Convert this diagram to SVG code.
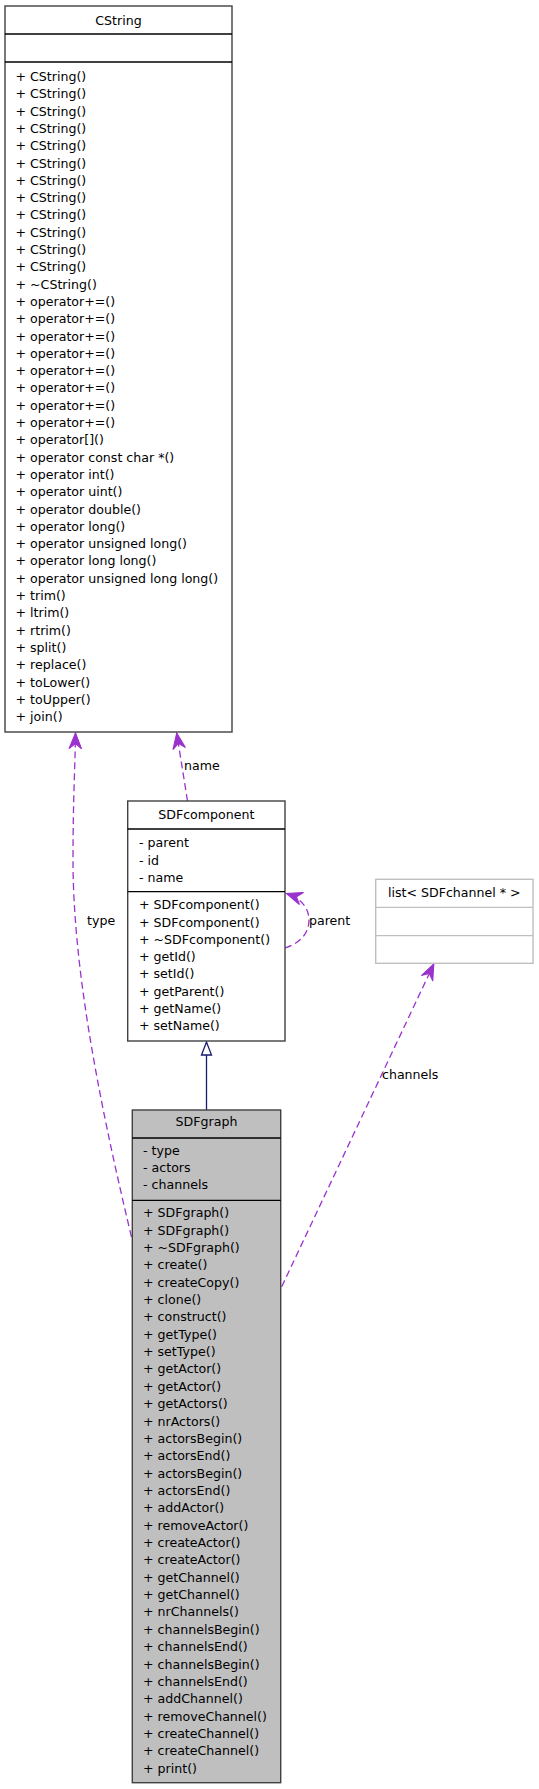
<svg xmlns="http://www.w3.org/2000/svg" width="539" height="1789" viewBox="0 0 539 1789">
<style>
text { font-family: "DejaVu Sans", "Liberation Sans", sans-serif; font-size: 12.6px; fill: #000; }
.t { text-anchor: middle; }
.box { fill: #fff; stroke: #404040; stroke-width: 1.4; }
.sel { fill: #bfbfbf; stroke: #404040; stroke-width: 1.4; }
.ext { fill: #fff; stroke: #bfbfbf; stroke-width: 1.4; }
.div { stroke: #000; stroke-width: 1.3; }
.divg { stroke: #bfbfbf; stroke-width: 1.3; }
.use { fill: none; stroke: #9a32cd; stroke-width: 1.3; stroke-dasharray: 7,4; }
.inh { fill: none; stroke: #191970; stroke-width: 1.3; }
</style>
<defs>
<marker id="vee" markerUnits="userSpaceOnUse" markerWidth="20" markerHeight="20" viewBox="-17 -9 19 18" refX="0" refY="0" orient="auto">
<path d="M0,0 L-15,-6 L-10,0 L-15,6 Z" fill="#9a32cd" stroke="#9a32cd" stroke-width="1" stroke-linejoin="miter"/>
</marker>
</defs>
<g id="edges">
<path class="inh" d="M206.5,1110 L206.5,1055"/>
<polygon points="206.5,1042 201.5,1055 211.5,1055" fill="#fff" stroke="#191970" stroke-width="1.3"/>
<path class="use" d="M131.5,1237 C95,1085 73,960 73,860 C73,800 75,770 75.5,733" marker-end="url(#vee)"/>
<text x="87" y="925">type</text>
<path class="use" d="M187.5,801 L176.7,733" marker-end="url(#vee)"/>
<text x="184" y="770">name</text>
<path class="use" d="M285,948 C297,944 309,936 309,920 C309,907 300,898 286.5,893.5" marker-end="url(#vee)"/>
<text x="309" y="925">parent</text>
<path class="use" d="M281.7,1286.7 L433.8,964" marker-end="url(#vee)"/>
<text x="382" y="1079">channels</text>
</g>
<g id="CString">
<rect class="box" x="5" y="6" width="227" height="726"/>
<line class="div" x1="5" y1="34" x2="232" y2="34"/>
<line class="div" x1="5" y1="62" x2="232" y2="62"/>
<text class="t" x="118.5" y="24.5">CString</text>
<text x="15.5" y="81">+ CString()</text>
<text x="15.5" y="98.3">+ CString()</text>
<text x="15.5" y="115.6">+ CString()</text>
<text x="15.5" y="132.9">+ CString()</text>
<text x="15.5" y="150.2">+ CString()</text>
<text x="15.5" y="167.5">+ CString()</text>
<text x="15.5" y="184.8">+ CString()</text>
<text x="15.5" y="202.1">+ CString()</text>
<text x="15.5" y="219.4">+ CString()</text>
<text x="15.5" y="236.7">+ CString()</text>
<text x="15.5" y="254">+ CString()</text>
<text x="15.5" y="271.3">+ CString()</text>
<text x="15.5" y="288.6">+ ~CString()</text>
<text x="15.5" y="305.9">+ operator+=()</text>
<text x="15.5" y="323.2">+ operator+=()</text>
<text x="15.5" y="340.5">+ operator+=()</text>
<text x="15.5" y="357.8">+ operator+=()</text>
<text x="15.5" y="375.1">+ operator+=()</text>
<text x="15.5" y="392.4">+ operator+=()</text>
<text x="15.5" y="409.7">+ operator+=()</text>
<text x="15.5" y="427">+ operator+=()</text>
<text x="15.5" y="444.3">+ operator[]()</text>
<text x="15.5" y="461.6">+ operator const char *()</text>
<text x="15.5" y="478.9">+ operator int()</text>
<text x="15.5" y="496.2">+ operator uint()</text>
<text x="15.5" y="513.5">+ operator double()</text>
<text x="15.5" y="530.8">+ operator long()</text>
<text x="15.5" y="548.1">+ operator unsigned long()</text>
<text x="15.5" y="565.4">+ operator long long()</text>
<text x="15.5" y="582.7">+ operator unsigned long long()</text>
<text x="15.5" y="600">+ trim()</text>
<text x="15.5" y="617.3">+ ltrim()</text>
<text x="15.5" y="634.6">+ rtrim()</text>
<text x="15.5" y="651.9">+ split()</text>
<text x="15.5" y="669.2">+ replace()</text>
<text x="15.5" y="686.5">+ toLower()</text>
<text x="15.5" y="703.8">+ toUpper()</text>
<text x="15.5" y="721.1">+ join()</text>
</g>
<g id="SDFcomponent">
<rect class="box" x="127.7" y="801" width="157.3" height="240"/>
<line class="div" x1="127.7" y1="829" x2="285" y2="829"/>
<line class="div" x1="127.7" y1="891.7" x2="285" y2="891.7"/>
<text class="t" x="206.3" y="818.8">SDFcomponent</text>
<text x="139" y="847.2">- parent</text>
<text x="139" y="864.5">- id</text>
<text x="139" y="881.8">- name</text>
<text x="139" y="909.2">+ SDFcomponent()</text>
<text x="139" y="926.5">+ SDFcomponent()</text>
<text x="139" y="943.8">+ ~SDFcomponent()</text>
<text x="139" y="961.1">+ getId()</text>
<text x="139" y="978.4">+ setId()</text>
<text x="139" y="995.7">+ getParent()</text>
<text x="139" y="1013">+ getName()</text>
<text x="139" y="1030.3">+ setName()</text>
</g>
<g id="list_SDFchannel">
<rect class="ext" x="375.7" y="879.3" width="157.3" height="84"/>
<line class="divg" x1="375.7" y1="907.3" x2="533" y2="907.3"/>
<line class="divg" x1="375.7" y1="935.7" x2="533" y2="935.7"/>
<text class="t" x="454.3" y="896.8">list&lt; SDFchannel * &gt;</text>
</g>
<g id="SDFgraph">
<rect class="sel" x="132.3" y="1110" width="148.4" height="672.7"/>
<line class="div" x1="132.3" y1="1138" x2="280.7" y2="1138"/>
<line class="div" x1="132.3" y1="1200.3" x2="280.7" y2="1200.3"/>
<text class="t" x="206.5" y="1126.2">SDFgraph</text>
<text x="143" y="1154.5">- type</text>
<text x="143" y="1171.8">- actors</text>
<text x="143" y="1189.1">- channels</text>
<text x="143" y="1217.2">+ SDFgraph()</text>
<text x="143" y="1234.56">+ SDFgraph()</text>
<text x="143" y="1251.92">+ ~SDFgraph()</text>
<text x="143" y="1269.28">+ create()</text>
<text x="143" y="1286.64">+ createCopy()</text>
<text x="143" y="1304">+ clone()</text>
<text x="143" y="1321.36">+ construct()</text>
<text x="143" y="1338.72">+ getType()</text>
<text x="143" y="1356.08">+ setType()</text>
<text x="143" y="1373.44">+ getActor()</text>
<text x="143" y="1390.8">+ getActor()</text>
<text x="143" y="1408.16">+ getActors()</text>
<text x="143" y="1425.52">+ nrActors()</text>
<text x="143" y="1442.88">+ actorsBegin()</text>
<text x="143" y="1460.24">+ actorsEnd()</text>
<text x="143" y="1477.6">+ actorsBegin()</text>
<text x="143" y="1494.96">+ actorsEnd()</text>
<text x="143" y="1512.32">+ addActor()</text>
<text x="143" y="1529.68">+ removeActor()</text>
<text x="143" y="1547.04">+ createActor()</text>
<text x="143" y="1564.4">+ createActor()</text>
<text x="143" y="1581.76">+ getChannel()</text>
<text x="143" y="1599.12">+ getChannel()</text>
<text x="143" y="1616.48">+ nrChannels()</text>
<text x="143" y="1633.84">+ channelsBegin()</text>
<text x="143" y="1651.2">+ channelsEnd()</text>
<text x="143" y="1668.56">+ channelsBegin()</text>
<text x="143" y="1685.92">+ channelsEnd()</text>
<text x="143" y="1703.28">+ addChannel()</text>
<text x="143" y="1720.64">+ removeChannel()</text>
<text x="143" y="1738">+ createChannel()</text>
<text x="143" y="1755.36">+ createChannel()</text>
<text x="143" y="1772.72">+ print()</text>
</g>
</svg>
